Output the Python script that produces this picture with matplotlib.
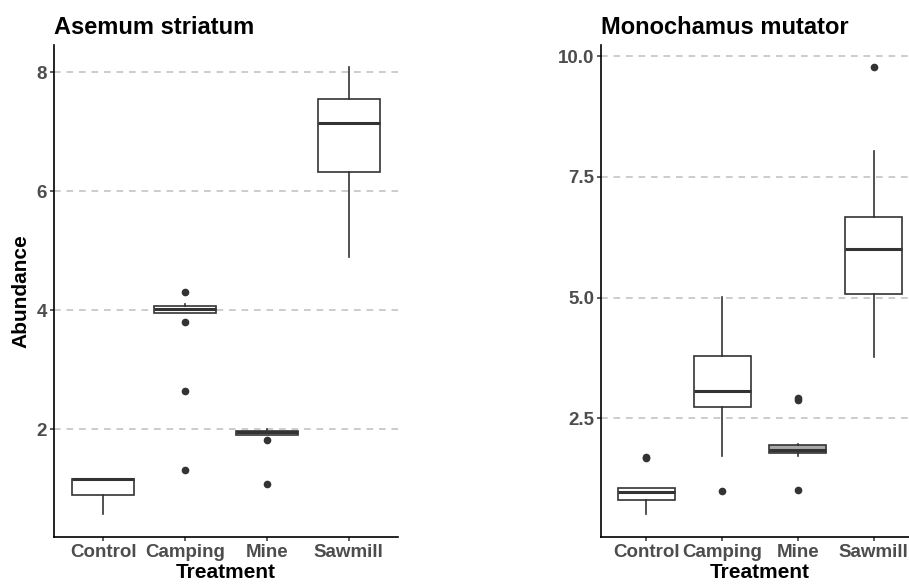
import matplotlib
matplotlib.use("Agg")
import matplotlib.pyplot as plt

plt.rcParams['font.family'] = ['Liberation Sans', 'DejaVu Sans']

treatments = ['Control', 'Camping', 'Mine', 'Sawmill']

# Asemum striatum - box stats
as_whislo = [0.575, 3.96, 1.91, 4.89]
as_q1 = [0.90, 3.96, 1.91, 6.33]
as_med = [1.165, 4.02, 1.955, 7.145]
as_q3 = [1.17, 4.08, 1.975, 7.55]
as_whishi = [1.17, 4.10, 2.0, 8.08]
as_fliers = [[], [4.31, 3.80, 2.64, 1.32], [1.83, 1.08], []]

# Monochamus mutator
mm_whislo = [0.51, 1.716, 1.72, 3.776]
mm_q1 = [0.817, 2.732, 1.784, 5.07]
mm_med = [0.983, 3.064, 1.847, 6.017]
mm_q3 = [1.066, 3.797, 1.95, 6.674]
mm_whishi = [1.066, 5.01, 1.97, 8.044]
mm_fliers = [[1.67, 1.70], [1.0], [2.87, 2.91, 1.02], [9.77]]

box_col = '#333333'
tick_col = '#4D4D4D'


def make_stats(lo, q1, med, q3, hi, fl):
    out = []
    for i in range(len(treatments)):
        out.append(dict(whislo=lo[i], q1=q1[i], med=med[i], q3=q3[i],
                        whishi=hi[i], fliers=fl[i], label=treatments[i]))
    return out


def draw_panel(ax, stats, title, yticks, fmt, grey_box=None):
    # ggplot-like 5% expansion from data
    vals = [s['whislo'] for s in stats] + [s['whishi'] for s in stats]
    for s in stats:
        vals += list(s['fliers'])
    lo, hi = min(vals), max(vals)
    pad = 0.05 * (hi - lo)
    ax.set_ylim(lo - pad, hi + pad)
    ax.set_xlim(0.4, 4.6)

    for y in yticks:
        ax.axhline(y, color='#C4C4C4', lw=1.2, ls=(0, (4, 3.5)), zorder=0)

    bp = ax.bxp(stats, positions=range(1, 5), widths=0.75, patch_artist=True,
                showcaps=False,
                boxprops=dict(facecolor='white', edgecolor=box_col, linewidth=1.2),
                medianprops=dict(color=box_col, linewidth=2.2),
                whiskerprops=dict(color=box_col, linewidth=1.2),
                flierprops=dict(marker='o', markerfacecolor=box_col,
                                markeredgecolor=box_col, markersize=4.5))
    if grey_box is not None:
        bp['boxes'][grey_box].set_facecolor('#A8A8A8')

    ax.set_yticks(yticks)
    ax.set_yticklabels([fmt % y for y in yticks])
    ax.set_xticks(range(1, 5))
    ax.set_xticklabels(treatments)
    for sp in ['top', 'right']:
        ax.spines[sp].set_visible(False)
    for sp in ['left', 'bottom']:
        ax.spines[sp].set_color('black')
        ax.spines[sp].set_linewidth(1.2)
    ax.tick_params(axis='both', length=3, width=1.1, color='#333333',
                   labelsize=13.5, labelcolor=tick_col, pad=2)
    for lab in ax.get_xticklabels() + ax.get_yticklabels():
        lab.set_fontweight('bold')
    ax.set_title(title, loc='left', fontsize=17, fontweight='bold', pad=8)
    ax.set_xlabel('Treatment', fontsize=15, fontweight='bold', labelpad=2)


fig = plt.figure(figsize=(9.09, 5.84), dpi=100)
ax1 = fig.add_axes([54 / 909, 47.3 / 584, 344 / 909, 491.7 / 584])
ax2 = fig.add_axes([601 / 909, 47.3 / 584, 318 / 909, 491.7 / 584])

draw_panel(ax1, make_stats(as_whislo, as_q1, as_med, as_q3, as_whishi, as_fliers),
           'Asemum striatum', [2, 4, 6, 8], '%d')
draw_panel(ax2, make_stats(mm_whislo, mm_q1, mm_med, mm_q3, mm_whishi, mm_fliers),
           'Monochamus mutator', [2.5, 5.0, 7.5, 10.0], '%.1f', grey_box=2)

ax1.set_ylabel('Abundance', fontsize=15, fontweight='bold')
ax1.yaxis.set_label_coords(-0.068, 0.5)

fig.savefig('out.png', dpi=100)
